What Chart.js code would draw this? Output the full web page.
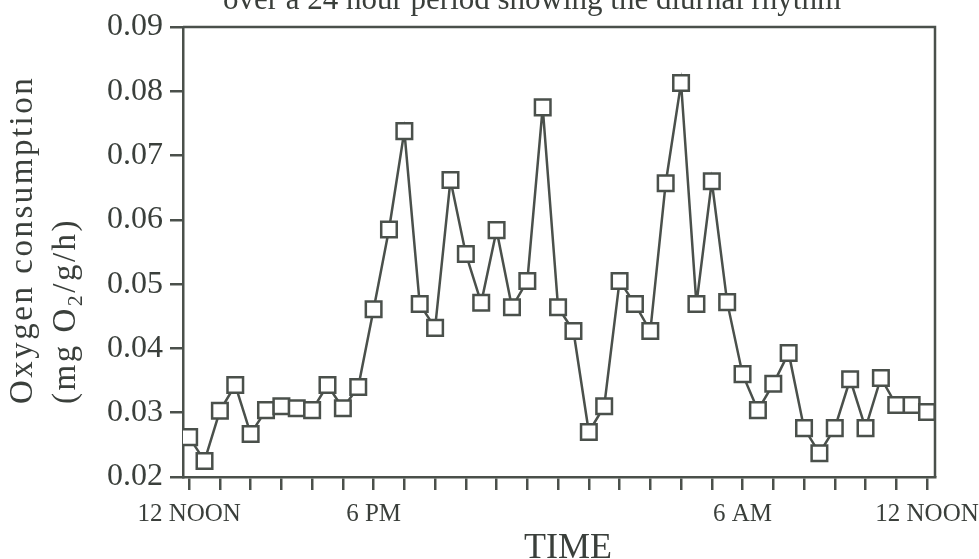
<!DOCTYPE html>
<html>
<head>
<meta charset="utf-8">
<script src="https://cdn.jsdelivr.net/npm/chart.js@4.4.1/dist/chart.umd.min.js"></script>
<style>
  html, body { margin: 0; padding: 0; background: #fff; }
  #wrap { width: 979px; height: 559px; }
</style>
</head>
<body>
<div id="wrap"><canvas id="mainChart" width="979" height="559"></canvas></div>
<script>
// --- data ---
// hours after 12 noon, one reading every half hour
const hours = [0, 0.5, 1, 1.5, 2, 2.5, 3, 3.5, 4, 4.5, 5, 5.5, 6, 6.5, 7, 7.5,
  8, 8.5, 9, 9.5, 10, 10.5, 11, 11.5, 12, 12.5, 13, 13.5, 14, 14.5, 15, 15.5,
  16, 16.5, 17, 17.5, 18, 18.5, 19, 19.5, 20, 20.5, 21, 21.5, 22, 22.5, 23, 23.5, 24];

// mg O2/g/h
const oxygen = [0.0262, 0.0225, 0.0303, 0.0343, 0.0267, 0.0304, 0.0310, 0.0307,
  0.0304, 0.0343, 0.0307, 0.0340, 0.0461, 0.0585, 0.0738, 0.0469, 0.0432, 0.0662,
  0.0547, 0.0471, 0.0584, 0.0464, 0.0505, 0.0775, 0.0464, 0.0427, 0.0270, 0.0310,
  0.0505, 0.0469, 0.0427, 0.0657, 0.0813, 0.0469, 0.0660, 0.0472, 0.0360, 0.0304,
  0.0345, 0.0393, 0.0276, 0.0237, 0.0276, 0.0352, 0.0276, 0.0354, 0.0312, 0.0312, 0.0301];

// only a few hour ticks carry a label
const tickHours = [0, 6, 18, 24];
const tickNames = ['12 NOON', '6 PM', '6 AM', '12 NOON'];

const titleText = 'over a 24 hour period showing the diurnal rhythm';
const yTitle1 = 'Oxygen consumption';
const xTitle = 'TIME';

// --- style ---
const INK = '#4a504b';
const TEXT = '#3a3f3b';
const SERIF = '"Liberation Serif", "Times New Roman", serif';

// frame, extra text (title cut at the top, y title with subscript, TIME)
const framePlugin = {
  id: 'frame',
  afterDraw(chart) {
    const { ctx, chartArea: a } = chart;
    ctx.save();
    ctx.strokeStyle = INK;
    ctx.lineWidth = 2.5;
    ctx.beginPath();
    ctx.moveTo(a.left, a.top);
    ctx.lineTo(a.right, a.top);
    ctx.lineTo(a.right, a.bottom);
    ctx.stroke();

    ctx.fillStyle = TEXT;
    ctx.textAlign = 'center';
    ctx.textBaseline = 'alphabetic';
    ctx.font = '31px ' + SERIF;
    ctx.fillText(titleText, 532, 9);

    ctx.font = '36px ' + SERIF;
    ctx.fillText(xTitle, 568, 558);

    // rotated y title, two lines starting at the same height
    ctx.textAlign = 'left';
    ctx.letterSpacing = '2.5px';
    ctx.save();
    ctx.translate(32, 404);
    ctx.rotate(-Math.PI / 2);
    ctx.font = '33px ' + SERIF;
    ctx.fillText(yTitle1, 0, 0);
    ctx.restore();

    ctx.save();
    ctx.translate(75, 404);
    ctx.rotate(-Math.PI / 2);
    let x = 0;
    ctx.font = '33px ' + SERIF;
    ctx.fillText('(mg O', x, 0);
    x += ctx.measureText('(mg O').width;
    ctx.font = '22px ' + SERIF;
    ctx.fillText('2', x, 7);
    x += ctx.measureText('2').width;
    ctx.font = '33px ' + SERIF;
    ctx.fillText('/g/h)', x, 0);
    ctx.restore();
    ctx.restore();
  }
};

const ctx = document.getElementById('mainChart').getContext('2d');
new Chart(ctx, {
  type: 'line',
  data: {
    datasets: [{
      data: hours.map((h, i) => ({ x: h, y: oxygen[i] })),
      borderColor: INK,
      borderWidth: 2.5,
      pointStyle: 'rect',
      pointRadius: 11,
      pointBorderWidth: 2.5,
      pointBorderColor: INK,
      pointBackgroundColor: '#fff',
      tension: 0
    }]
  },
  options: {
    responsive: false,
    animation: false,
    layout: { padding: { top: 27, right: 44, left: 0, bottom: 0 } },
    plugins: {
      legend: { display: false },
      tooltip: { enabled: false }
    },
    scales: {
      x: {
        type: 'linear',
        min: -0.2,
        max: 24.26,
        // fixed height, and let the end labels hang over the margins
        afterFit: s => { s.height = 82; s.paddingLeft = 0; s.paddingRight = 0; },
        border: { color: INK, width: 2.5 },
        grid: { drawOnChartArea: false, color: INK, lineWidth: 2.5, tickLength: 13 },
        ticks: {
          stepSize: 1,
          includeBounds: false,
          autoSkip: false,
          maxRotation: 0,
          padding: 9,
          color: TEXT,
          font: { family: SERIF, size: 25 },
          callback: v => {
            const k = tickHours.indexOf(v);
            return k >= 0 ? tickNames[k] : '';
          }
        }
      },
      y: {
        min: 0.02,
        max: 0.09,
        afterFit: s => { s.width = 183; s.paddingTop = 0; s.paddingBottom = 0; },
        border: { color: INK, width: 2.5 },
        grid: { drawOnChartArea: false, color: INK, lineWidth: 2.5, tickLength: 13 },
        ticks: {
          stepSize: 0.01,
          padding: 7,
          color: TEXT,
          font: { family: SERIF, size: 32 },
          callback: v => v.toFixed(2)
        }
      }
    }
  },
  plugins: [framePlugin]
});
</script>
</body>
</html>
